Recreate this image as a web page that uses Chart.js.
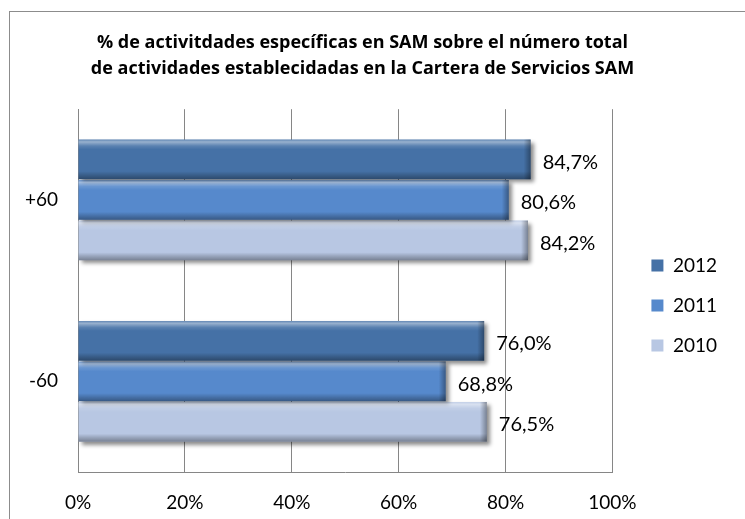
<!DOCTYPE html>
<html>
<head>
<meta charset="utf-8">
<script src="https://cdn.jsdelivr.net/npm/chart.js@4/dist/chart.umd.min.js"></script>
<style>
  html, body { margin: 0; padding: 0; background: #fff; }
  .frame {
    position: absolute; left: 9px; top: 11px;
    width: 736px; height: 508px;
    border-left: 1px solid #8c8c8c; border-top: 1px solid #8c8c8c;
  }
  .frame canvas { display: block; }
</style>
</head>
<body>
<div class="frame"><canvas id="chart" width="735" height="507"></canvas></div>
<script>
// chart data
const categories = ['+60', '-60'];
const years = ['2012', '2011', '2010'];
const values2012 = [84.7, 76.0];
const values2011 = [80.6, 68.8];
const values2010 = [84.2, 76.5];
const xTicks = [0, 20, 40, 60, 80, 100];

const colors = ['#4571a6', '#5689cc', '#b8c7e3'];

const fmt = (v) => v.toFixed(1).replace('.', ',') + '%';

Chart.defaults.font.family = 'Lato, "Open Sans", sans-serif';
Chart.defaults.color = '#000';

// drop shadow under the bars
const barShadow = {
  id: 'barShadow',
  beforeDatasetsDraw(chart) {
    const ctx = chart.ctx;
    ctx.save();
    ctx.shadowColor = 'rgba(0,0,0,0.45)';
    ctx.shadowOffsetX = 3;
    ctx.shadowOffsetY = 3;
    ctx.shadowBlur = 4;
  },
  afterDatasetsDraw(chart) {
    chart.ctx.restore();
  }
};

// bevel look + value labels
const barFinish = {
  id: 'barFinish',
  afterDatasetsDraw(chart) {
    const ctx = chart.ctx;
    chart.data.datasets.forEach((ds, i) => {
      const meta = chart.getDatasetMeta(i);
      meta.data.forEach((bar, j) => {
        const { x, y, base, height } = bar.getProps(['x', 'y', 'base', 'height'], true);
        const top = y - height / 2;
        const left = Math.min(base, x);
        const w = Math.abs(x - base);

        ctx.save();
        const g = ctx.createLinearGradient(0, top, 0, top + height);
        g.addColorStop(0, 'rgba(255,255,255,0.15)');
        g.addColorStop(0.06, 'rgba(255,255,255,0.45)');
        g.addColorStop(0.16, 'rgba(255,255,255,0.12)');
        g.addColorStop(0.25, 'rgba(255,255,255,0)');
        g.addColorStop(0.8, 'rgba(0,0,0,0)');
        g.addColorStop(0.9, 'rgba(0,0,0,0.18)');
        g.addColorStop(1, 'rgba(0,0,0,0.35)');
        ctx.fillStyle = g;
        ctx.fillRect(left, top, w, height);

        const r = ctx.createLinearGradient(x - 7, 0, x, 0);
        r.addColorStop(0, 'rgba(0,0,0,0)');
        r.addColorStop(1, 'rgba(0,0,0,0.35)');
        ctx.fillStyle = r;
        ctx.fillRect(x - 7, top, 7, height);

        ctx.fillStyle = '#000';
        ctx.font = '20px ' + Chart.defaults.font.family;
        ctx.textBaseline = 'middle';
        ctx.textAlign = 'left';
        ctx.fillText(fmt(ds.data[j]), x + 12, y + 3);
        ctx.restore();
      });
    });
  }
};

// small position adjustments for title and legend
const nudge = {
  id: 'nudge',
  afterLayout(chart) {
    chart.titleBlock.left += 3;
    chart.titleBlock.right += 3;
    chart.legend.left += 18;
    chart.legend.right += 18;
    chart.legend.top += 40;
    chart.legend.bottom += 40;
  }
};

const ctx = document.getElementById('chart').getContext('2d');

new Chart(ctx, {
  type: 'bar',
  data: {
    labels: categories,
    datasets: [
      { label: years[0], data: values2012, backgroundColor: colors[0] },
      { label: years[1], data: values2011, backgroundColor: colors[1] },
      { label: years[2], data: values2010, backgroundColor: colors[2] },
    ],
  },
  options: {
    responsive: false,
    animation: false,
    indexAxis: 'y',
    categoryPercentage: 0.67,
    barPercentage: 0.98,
    layout: { padding: { right: 36, bottom: 0 } },
    plugins: {
      title: {
        display: true,
        text: [
          '% de activitdades específicas en SAM sobre el número total',
          'de actividades establecidadas en la Cartera de Servicios SAM',
        ],
        font: { family: '"Open Sans", sans-serif', size: 18, weight: 'bold', lineHeight: 1.45 },
        color: '#000',
        padding: { top: 18, bottom: 27 },
      },
      legend: {
        position: 'right',
        labels: {
          boxWidth: 12,
          boxHeight: 12,
          padding: 21,
          font: { size: 19 },
        },
      },
      tooltip: { enabled: false },
    },
    scales: {
      x: {
        min: 0,
        max: 100,
        afterBuildTicks: (scale) => {
          scale.ticks = xTicks.map((v) => ({ value: v }));
        },
        afterFit: (scale) => { scale.height = 47; },
        ticks: {
          callback: (v) => v + '%',
          font: { size: 19 },
          padding: 19,
        },
        grid: { color: '#868686', drawTicks: false },
        border: { color: '#868686' },
      },
      y: {
        afterFit: (scale) => { scale.width = 68; },
        ticks: { font: { size: 19 }, padding: 20 },
        grid: { display: false, drawTicks: false },
        border: { color: '#868686' },
      },
    },
  },
  plugins: [barShadow, barFinish, nudge],
});
</script>
</body>
</html>
